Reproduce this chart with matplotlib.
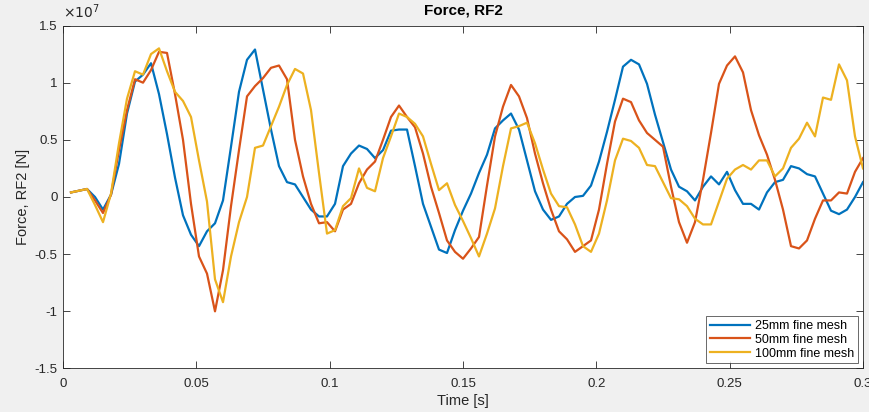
import numpy as np
import matplotlib
matplotlib.use("Agg")
import matplotlib.pyplot as plt
from matplotlib.ticker import FuncFormatter

plt.rcParams["font.family"] = ["Liberation Sans", "DejaVu Sans"]
plt.rcParams["axes.unicode_minus"] = False

# sample step of the exported history output
dt = 0.003
time = dt * np.arange(1, 101)

# Force RF2 in units of 1e7 N
rf2_25mm = [0.04, 0.055, 0.07, 0.0, -0.11, 0.02, 0.29, 0.73, 1.01, 1.07,
            1.17, 0.90, 0.55, 0.17, -0.16, -0.33, -0.43, -0.30, -0.23, -0.03,
            0.44, 0.92, 1.20, 1.29, 0.94, 0.59, 0.27, 0.13, 0.11, 0.0,
            -0.11, -0.17, -0.17, -0.06, 0.27, 0.38, 0.45, 0.42, 0.34, 0.41,
            0.58, 0.59, 0.59, 0.27, -0.06, -0.26, -0.46, -0.49, -0.29, -0.12,
            0.03, 0.21, 0.37, 0.60, 0.67, 0.73, 0.59, 0.32, 0.05, -0.11,
            -0.20, -0.17, -0.06, 0.0, 0.01, 0.10, 0.31, 0.57, 0.85, 1.14,
            1.20, 1.16, 0.99, 0.72, 0.48, 0.24, 0.09, 0.05, -0.03, 0.09,
            0.18, 0.11, 0.22, 0.06, -0.06, -0.06, -0.11, 0.04, 0.13, 0.15,
            0.27, 0.25, 0.20, 0.18, 0.03, -0.12, -0.15, -0.11, 0.0, 0.13]
rf2_50mm = [0.04, 0.055, 0.07, -0.03, -0.14, 0.02, 0.41, 0.76, 1.03, 1.0,
            1.11, 1.27, 1.26, 0.90, 0.50, -0.06, -0.52, -0.67, -1.0, -0.64,
            -0.08, 0.41, 0.88, 0.97, 1.04, 1.13, 1.15, 1.03, 0.50, 0.18,
            -0.06, -0.23, -0.22, -0.30, -0.11, -0.06, 0.12, 0.24, 0.31, 0.50,
            0.70, 0.80, 0.70, 0.61, 0.38, 0.09, -0.14, -0.38, -0.48, -0.54,
            -0.45, -0.35, 0.10, 0.53, 0.79, 0.98, 0.88, 0.69, 0.38, 0.12,
            -0.11, -0.30, -0.37, -0.48, -0.43, -0.38, -0.11, 0.29, 0.66, 0.86,
            0.83, 0.67, 0.56, 0.50, 0.44, 0.09, -0.22, -0.40, -0.22, 0.15,
            0.56, 0.99, 1.15, 1.23, 1.09, 0.76, 0.54, 0.37, 0.15, -0.11,
            -0.43, -0.45, -0.38, -0.19, -0.03, -0.03, 0.04, 0.03, 0.22, 0.34]
rf2_100mm = [0.04, 0.055, 0.07, -0.07, -0.22, 0.03, 0.47, 0.86, 1.10, 1.07,
             1.25, 1.30, 1.10, 0.92, 0.84, 0.70, 0.32, -0.04, -0.72, -0.92,
             -0.52, -0.22, 0.0, 0.43, 0.45, 0.62, 0.79, 0.98, 1.12, 1.08,
             0.76, 0.21, -0.32, -0.29, -0.08, -0.01, 0.25, 0.08, 0.05, 0.34,
             0.53, 0.73, 0.70, 0.64, 0.53, 0.29, 0.06, 0.12, -0.07, -0.21,
             -0.36, -0.52, -0.32, -0.10, 0.27, 0.60, 0.62, 0.65, 0.47, 0.24,
             0.03, -0.08, -0.09, -0.24, -0.43, -0.48, -0.32, -0.03, 0.32, 0.51,
             0.49, 0.43, 0.28, 0.27, 0.13, -0.01, -0.02, -0.08, -0.19, -0.24,
             -0.24, -0.04, 0.16, 0.24, 0.28, 0.24, 0.32, 0.32, 0.18, 0.25,
             0.43, 0.51, 0.65, 0.53, 0.87, 0.85, 1.16, 1.02, 0.53, 0.25]

labels = ["25mm fine mesh", "50mm fine mesh", "100mm fine mesh"]
colors = ["#0072BD", "#D95319", "#EDB120"]
scale = 1e7

fig = plt.figure(figsize=(8.69, 4.12), dpi=100, facecolor="#f0f0f0")
ax = fig.add_axes([0.0725, 0.1056, 0.9206, 0.8325])

for series, name, c in zip([rf2_25mm, rf2_50mm, rf2_100mm], labels, colors):
    ax.plot(time, np.array(series) * scale, color=c, lw=1.6, label=name)

ax.set_xlim(0, 0.3)
ax.set_ylim(-1.5 * scale, 1.5 * scale)
ax.set_xticks(np.arange(0, 0.301, 0.05))
ax.set_yticks(np.arange(-1.5, 1.51, 0.5) * scale)
ax.xaxis.set_major_formatter(FuncFormatter(lambda v, p: f"{v:g}"))
ax.yaxis.set_major_formatter(FuncFormatter(lambda v, p: f"{v / scale:g}"))

# matlab-ish look: box on, ticks inside on all sides
ax.tick_params(axis="both", which="both", direction="in", length=5,
               width=0.6, color="#262626", labelcolor="#262626",
               labelsize=9.5, top=True, right=True)
ax.tick_params(axis="x", pad=7)
ax.tick_params(axis="y", pad=4)
for spine in ax.spines.values():
    spine.set_color("#262626")
    spine.set_linewidth(0.6)

ax.text(0.0, 1.012, r"$\times10^{7}$", transform=ax.transAxes,
        fontsize=10, color="#262626", ha="left", va="bottom")
ax.set_title("Force, RF2", fontsize=11, fontweight="bold", color="black",
             pad=8)
ax.set_xlabel("Time [s]", fontsize=10.5, color="#262626", labelpad=3)
ax.set_ylabel("Force, RF2 [N]", fontsize=10.5, color="#262626", labelpad=3)

leg = ax.legend(loc="lower right", fontsize=9, frameon=True, fancybox=False,
                borderaxespad=0.4, handlelength=3.2, handletextpad=0.4,
                labelspacing=0.15, borderpad=0.3)
leg.get_frame().set_edgecolor("#262626")
leg.get_frame().set_linewidth(0.6)

fig.savefig("out.png", dpi=100, facecolor=fig.get_facecolor())
